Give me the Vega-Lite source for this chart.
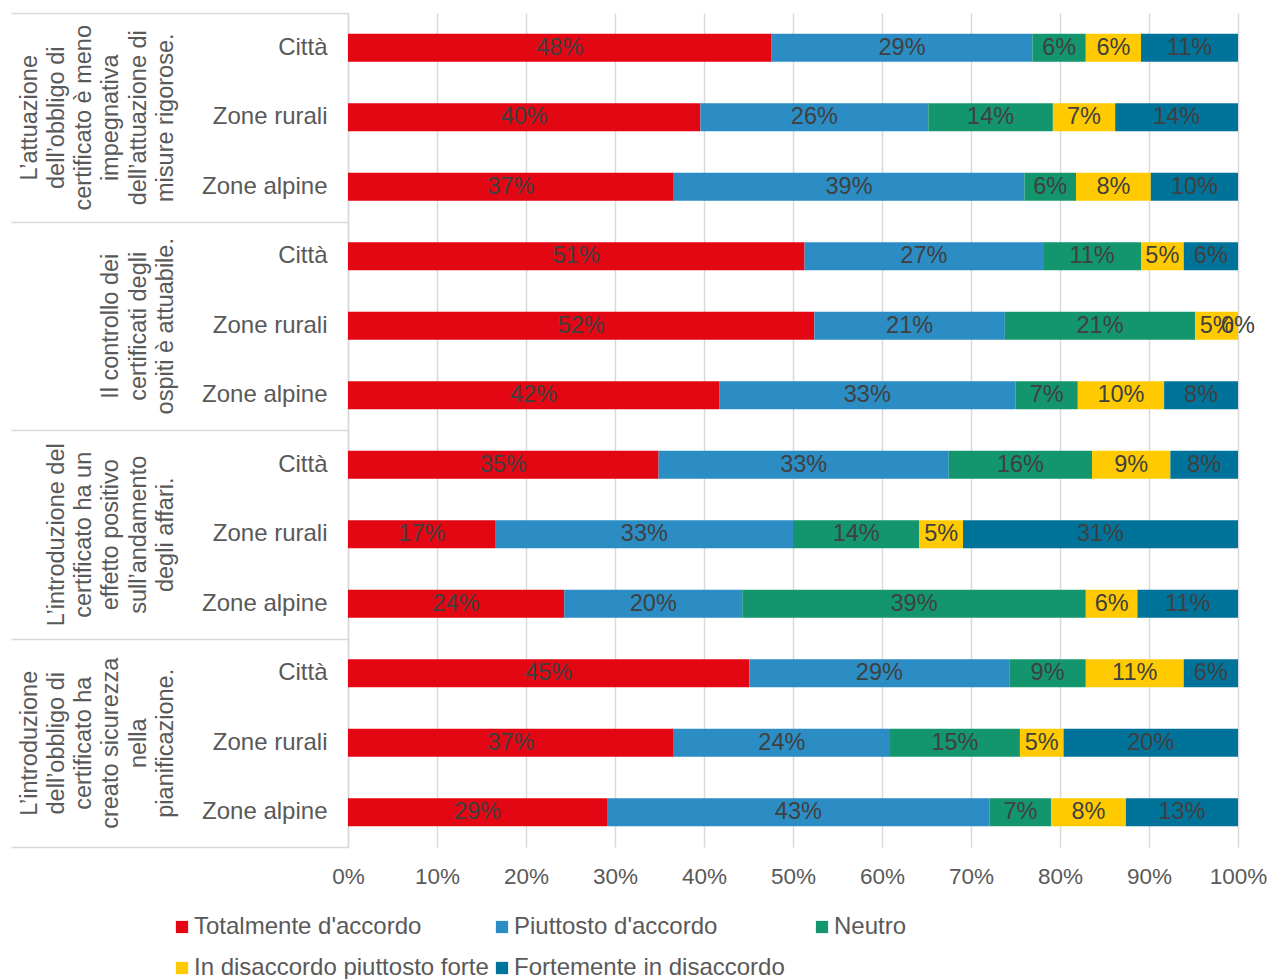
{
  "$schema": "https://vega.github.io/schema/vega-lite/v6.json",
  "width": 890,
  "height": 834,
  "padding": {"left": 10, "top": 12, "right": 4, "bottom": 0},
  "background": "white",
  "config": {"font": "Liberation Sans", "view": {"stroke": null}},
  "datasets": {
    "topics": [
      {"g": 1, "topic": "L’attuazione|dell’obbligo di|certificato è meno|impegnativa|dell’attuazione di|misure rigorose."},
      {"g": 2, "topic": "\u2800|\u2800|\u2800|Il controllo dei|certificati degli|ospiti è attuabile."},
      {"g": 3, "topic": "\u2800|L’introduzione del|certificato ha un|effetto positivo|sull’andamento|degli affari."},
      {"g": 4, "topic": "L’introduzione|dell’obbligo di|certificato ha|creato sicurezza|nella|pianificazione."}
    ],
    "answers": [
      {"key": "v1", "name": "Totalmente d'accordo"},
      {"key": "v2", "name": "Piuttosto d'accordo"},
      {"key": "v3", "name": "Neutro"},
      {"key": "v4", "name": "In disaccordo piuttosto forte"},
      {"key": "v5", "name": "Fortemente in disaccordo"}
    ]
  },
  "data": {
    "values": [
      {"g": 1, "row": "1|Città", "v1": 0.476, "v2": 0.293, "v3": 0.060, "v4": 0.062, "v5": 0.109},
      {"g": 1, "row": "1|Zone rurali", "v1": 0.396, "v2": 0.256, "v3": 0.140, "v4": 0.070, "v5": 0.138},
      {"g": 1, "row": "1|Zone alpine", "v1": 0.366, "v2": 0.394, "v3": 0.058, "v4": 0.084, "v5": 0.098},
      {"g": 2, "row": "2|Città", "v1": 0.513, "v2": 0.268, "v3": 0.110, "v4": 0.048, "v5": 0.061},
      {"g": 2, "row": "2|Zone rurali", "v1": 0.524, "v2": 0.214, "v3": 0.214, "v4": 0.048, "v5": 0.0},
      {"g": 2, "row": "2|Zone alpine", "v1": 0.417, "v2": 0.333, "v3": 0.070, "v4": 0.097, "v5": 0.083},
      {"g": 3, "row": "3|Città", "v1": 0.349, "v2": 0.326, "v3": 0.161, "v4": 0.088, "v5": 0.076},
      {"g": 3, "row": "3|Zone rurali", "v1": 0.166, "v2": 0.334, "v3": 0.142, "v4": 0.049, "v5": 0.309},
      {"g": 3, "row": "3|Zone alpine", "v1": 0.243, "v2": 0.200, "v3": 0.386, "v4": 0.058, "v5": 0.113},
      {"g": 4, "row": "4|Città", "v1": 0.451, "v2": 0.292, "v3": 0.086, "v4": 0.110, "v5": 0.061},
      {"g": 4, "row": "4|Zone rurali", "v1": 0.366, "v2": 0.243, "v3": 0.146, "v4": 0.049, "v5": 0.196},
      {"g": 4, "row": "4|Zone alpine", "v1": 0.291, "v2": 0.430, "v3": 0.069, "v4": 0.084, "v5": 0.126}
    ]
  },
  "transform": [
    {"fold": ["v1", "v2", "v3", "v4", "v5"], "as": ["key", "v"]},
    {"lookup": "key", "from": {"data": {"name": "answers"}, "key": "key", "fields": ["name"]}},
    {"lookup": "g", "from": {"data": {"name": "topics"}, "key": "g", "fields": ["topic"]}}
  ],
  "layer": [
    {
      "encoding": {
        "y": {
          "field": "row",
          "type": "nominal",
          "sort": null,
          "scale": {"paddingInner": 0.6, "paddingOuter": 0.3},
          "axis": {
            "title": null,
            "domain": false,
            "ticks": false,
            "labelPadding": 21,
            "labelFontSize": 24,
            "labelColor": "#595959",
            "labelLimit": 300,
            "labelExpr": "split(datum.label, '|')[1]"
          }
        }
      },
      "layer": [
        {
          "mark": {"type": "bar"},
          "encoding": {
            "x": {
              "field": "v",
              "type": "quantitative",
              "stack": "zero",
              "scale": {"domain": [0, 1]},
              "axis": {
                "title": null,
                "values": [0, 0.1, 0.2, 0.3, 0.4, 0.5, 0.6, 0.7, 0.8, 0.9, 1],
                "format": ".0%",
                "grid": true,
                "gridColor": "#d9d9d9",
                "gridWidth": 1.5,
                "domain": false,
                "ticks": false,
                "labelFlush": false,
                "labelPadding": 18,
                "labelFontSize": 22.5,
                "labelColor": "#595959"
              }
            },
            "color": {
              "field": "name",
              "type": "nominal",
              "scale": {
                "domain": ["Totalmente d'accordo", "Piuttosto d'accordo", "Neutro", "In disaccordo piuttosto forte", "Fortemente in disaccordo"],
                "range": ["#e30613", "#2b8dc4", "#13966d", "#ffcb00", "#00739a"]
              },
              "legend": {
                "orient": "none",
                "legendX": -178,
                "legendY": 902,
                "direction": "horizontal",
                "columns": 3,
                "title": null,
                "symbolType": "square",
                "symbolSize": 150,
                "symbolStrokeWidth": 0,
                "labelFontSize": 24,
                "labelColor": "#595959",
                "labelOffset": 0,
                "labelLimit": 400,
                "columnPadding": 1,
                "rowPadding": 17,
                "gridAlign": "all",
                "padding": 0
              }
            },
            "order": {"field": "key", "sort": "ascending"}
          }
        },
        {
          "mark": {"type": "text", "fontSize": 23.5, "color": "#404040"},
          "encoding": {
            "x": {"field": "v", "type": "quantitative", "stack": "zero", "bandPosition": 0.5},
            "text": {"field": "v", "type": "quantitative", "format": ".0%"},
            "order": {"field": "key", "sort": "ascending"}
          }
        }
      ]
    },
    {
      "mark": {"type": "text"},
      "encoding": {
        "y": {
          "field": "topic",
          "type": "nominal",
          "sort": null,
          "scale": {"paddingInner": 0, "paddingOuter": 0},
          "axis": {
            "orient": "left",
            "title": null,
            "domain": true,
            "domainColor": "#d9d9d9",
            "domainWidth": 1.5,
            "ticks": true,
            "tickBand": "extent",
            "tickSize": 337,
            "tickColor": "#d9d9d9",
            "tickWidth": 1.5,
            "labelAngle": 270,
            "labelAlign": "center",
            "labelBaseline": "bottom",
            "labelPadding": -30,
            "labelFontSize": 23.5,
            "labelLineHeight": 27.3,
            "labelColor": "#595959",
            "labelLimit": 400,
            "labelOverlap": false,
            "labelExpr": "split(datum.label, '|')"
          }
        },
        "text": {"value": ""}
      }
    }
  ],
  "resolve": {"scale": {"y": "independent"}, "axis": {"y": "independent"}}
}
